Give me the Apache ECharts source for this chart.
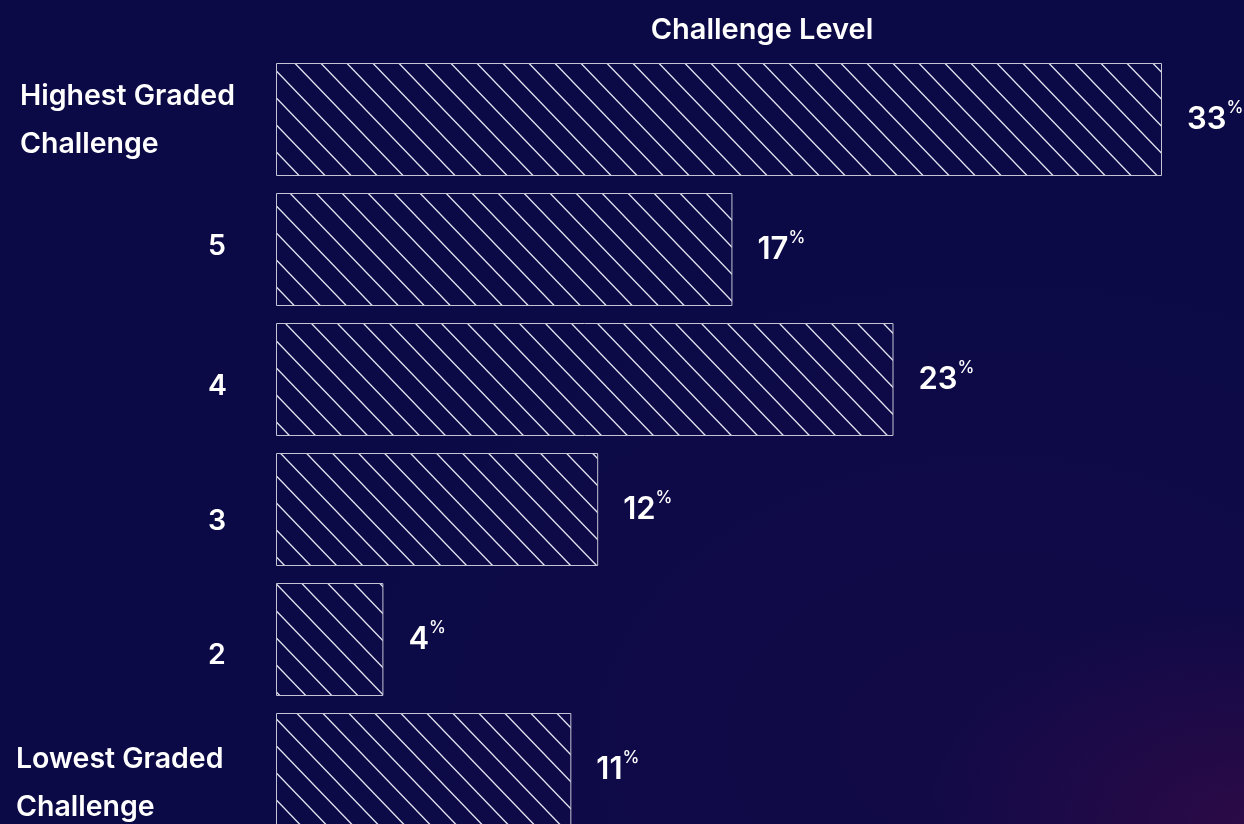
<!DOCTYPE html>
<html>
<head>
<meta charset="utf-8">
<script src="https://cdn.jsdelivr.net/npm/echarts@6/dist/echarts.min.js"></script>
<style>
  html, body { margin: 0; padding: 0; }
  body {
    width: 1244px; height: 824px; overflow: hidden;
    background:
      radial-gradient(ellipse 320px 220px at 100% 100%, rgba(48, 10, 70, 0.85), rgba(48, 10, 70, 0) 100%),
      radial-gradient(ellipse 700px 500px at 80% 90%, rgba(22, 10, 72, 0.7), rgba(22, 10, 72, 0) 100%),
      #0b0a47;
  }
  #chart { width: 1244px; height: 824px; }
</style>
</head>
<body>
<div id="chart"></div>
<script>
// Challenge levels, top to bottom
const categories = ['Highest Graded\nChallenge', '5', '4', '3', '2', 'Lowest Graded\nChallenge'];
// Share of respondents per level (%)
const shares = [33, 17, 23, 12, 4, 11];
const titleText = 'Challenge Level';

const font = 'Inter, "Noto Sans", sans-serif';

// Per-row label nudges: [top, bottom, left] padding on each text token
const labelPads = [[2, 0, 4], [0, 6, 192], [14, 0, 192], [24, 0, 192], [32, 0, 192], [28, 0, 0]];
const labelRich = {};
labelPads.forEach((p, i) => {
  labelRich['r' + i] = {
    color: '#ffffff', fontFamily: font, fontWeight: 600, fontSize: 28.5,
    lineHeight: 48, align: 'left',
    padding: [p[0], 0, p[1], p[2]]
  };
});

// Diagonal hatch tile
function hatchTile() {
  const w = 26, h = 27;
  const c = document.createElement('canvas');
  c.width = w; c.height = h;
  const g = c.getContext('2d');
  g.strokeStyle = 'rgba(240,240,250,0.95)';
  g.lineWidth = 1.3;
  for (let k = -1; k <= 1; k++) {
    g.beginPath();
    g.moveTo(k * w - 2, -2 * h / w);
    g.lineTo(k * w + w + 2, h + 2 * h / w);
    g.stroke();
  }
  return c;
}

const chart = echarts.init(document.getElementById('chart'), null, { renderer: 'canvas' });

chart.setOption({
  backgroundColor: 'transparent',
  animation: false,
  title: {
    text: titleText,
    left: 757,
    top: 11,
    textAlign: 'center',
    textStyle: { color: '#ffffff', fontFamily: font, fontWeight: 600, fontSize: 29 }
  },
  grid: { left: 276, top: 54.5, width: 886, height: 780, containLabel: false, outerBoundsMode: 'none' },
  xAxis: {
    type: 'value', min: 0, max: 33, show: false
  },
  yAxis: {
    type: 'category',
    inverse: true,
    data: categories,
    axisLine: { show: false },
    axisTick: { show: false },
    splitLine: { show: false },
    axisLabel: {
      align: 'left',
      margin: 260,
      color: '#ffffff',
      fontFamily: font,
      fontWeight: 600,
      fontSize: 28.5,
      lineHeight: 48,
      formatter: (value, index) =>
        value.split('\n').map(line => '{r' + index + '|' + line + '}').join('\n'),
      rich: labelRich
    }
  },
  series: [{
    type: 'bar',
    data: shares,
    barWidth: 113,
    itemStyle: {
      color: { image: hatchTile(), repeat: 'repeat' },
      borderColor: '#c4c4d4',
      borderWidth: 1
    },
    label: {
      show: true,
      position: 'right',
      distance: 25,
      formatter: '{v|{c}}{p|%}',
      rich: {
        v: { color: '#ffffff', fontFamily: font, fontWeight: 600, fontSize: 31, lineHeight: 40 },
        p: { color: '#ffffff', fontFamily: font, fontWeight: 500, fontSize: 17, verticalAlign: 'top', lineHeight: 40, padding: [0, 0, 8, 0] }
      }
    }
  }]
});
</script>
</body>
</html>
